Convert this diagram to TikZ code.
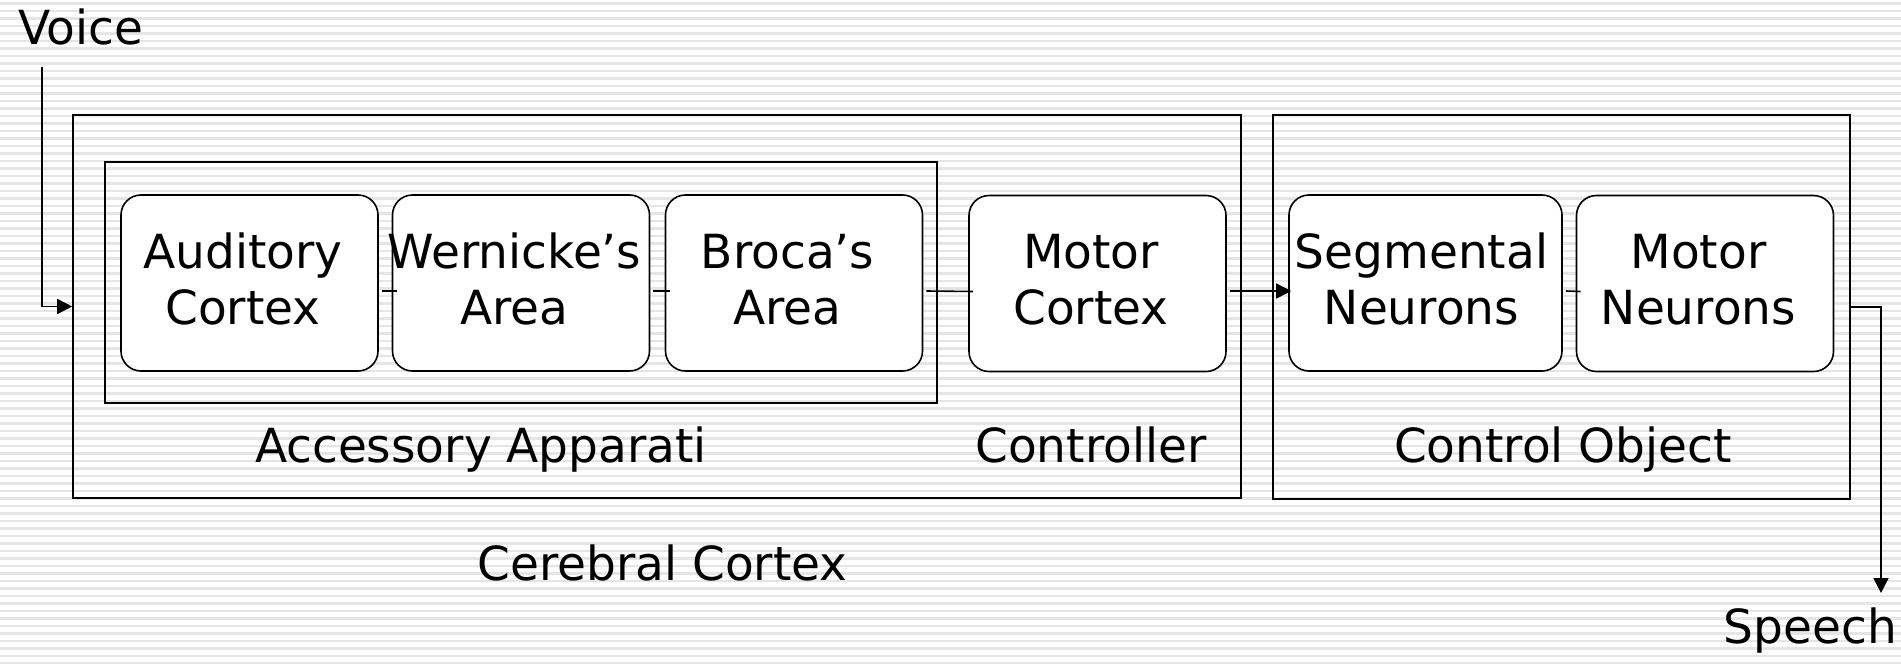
\documentclass[tikz,border=0pt]{standalone}
\usepackage{fontspec}
\setmainfont{DejaVu Sans}
\usetikzlibrary{arrows.meta,calc}
\newcommand{\lowstrut}{\rule[-4pt]{0pt}{4pt}}
\begin{document}
\begin{tikzpicture}[x=0.5pt,y=-0.5pt,
  box/.style={draw, line width=0.8pt, fill=white, rounded corners=10pt,
    minimum width=128.5pt, minimum height=88pt, inner sep=0pt},
  btxt/.style={align=center, inner sep=0pt, font=\fontsize{23.5}{28}\selectfont},
  frame/.style={draw, line width=0.8pt, inner sep=0pt},
  lbl/.style={anchor=base, inner sep=0pt, font=\fontsize{23.5}{28}\selectfont},
  link/.style={line width=0.8pt},
  arr/.style={line width=0.8pt, -{Triangle[length=7.5pt,width=7.5pt]}}
]
\useasboundingbox (0,0) rectangle (1901,664);
\fill[white] (0,0) rectangle (1901,664);
\foreach \i in {0,...,88} \fill[gray!20] (0,\i*7.5+2) rectangle (1901,\i*7.5+4.5);

% frames
\node[frame, minimum width=584pt, minimum height=191.5pt] (cc) at (657,306.5) {};
\node[frame, minimum width=416pt, minimum height=120.5pt] (acc) at (521,282.5) {};
\node[frame, minimum width=288.5pt, minimum height=192pt] (co) at (1561.5,307) {};

% boxes
\node[box] (aud) at (249.5,283) {};
\node[box] (wer) at (521,283) {};
\node[box] (bro) at (794,283) {};
\node[box] (mc) at (1097.5,283.5) {};
\node[box, minimum width=136.5pt] (seg) at (1425.5,283) {};
\node[box] (mn) at (1705,283.5) {};

% box texts
\node[btxt] (audt) at ($(aud.center)+(-6.5,0)$) {Auditory\\Cortex\lowstrut};
\node[btxt] (wert) at ($(wer.center)+(-6.5,0)$) {Wernicke’s\\Area\lowstrut};
\node[btxt] (brot) at ($(bro.center)+(-6.5,0)$) {Broca’s\\Area\lowstrut};
\node[btxt] (mct) at ($(mc.center)+(-6.5,0)$) {Motor\\Cortex\lowstrut};
\node[btxt] (segt) at ($(seg.center)+(-4,0)$) {Segmental\\Neurons\lowstrut};
\node[btxt] (mnt) at ($(mn.center)+(-6.5,0)$) {Motor\\Neurons\lowstrut};

% labels
\node[lbl, anchor=base west] (voice) at (18,44) {Voice};
\node[lbl] (speech) at (1810.5,643) {Speech};
\node[lbl] (accl) at (481,462) {Accessory Apparati};
\node[lbl] (ctrl) at (1091,462) {Controller};
\node[lbl] (col) at (1563,462) {Control Object};
\node[lbl] (cereb) at (662.5,580) {Cerebral Cortex};

% connectors
\draw[link] ($(aud.east)+(3,8)$) -- ($(wer.west)+(5,8)$);
\draw[link] ($(wer.east)+(3,8)$) -- ($(bro.west)+(5,8)$);
\draw[link] ($(bro.east)+(3,8)$) -- ($(mc.west)+(5,8)$);
\draw[arr] ($(mc.east)+(3,7.5)$) -- ($(seg.west)+(3,8)$);
\draw[link] ($(seg.east)+(3,8)$) -- ($(mn.west)+(5,8)$);

\coordinate (vin) at (42,67);
\draw[arr] (vin) |- (cc.west);
\coordinate (sout) at (1881,593);
\draw[arr] (co.east) -| (sout);
\end{tikzpicture}
\end{document}
